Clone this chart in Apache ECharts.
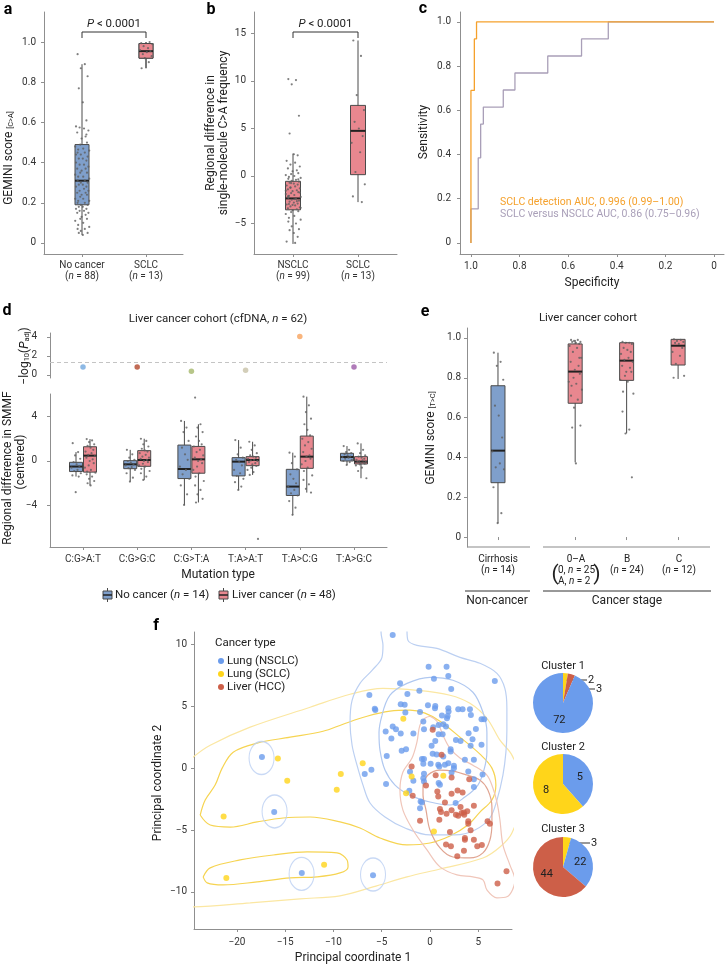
<!DOCTYPE html>
<html><head><meta charset="utf-8">
<script src="https://cdn.jsdelivr.net/npm/echarts@6/dist/echarts.min.js"></script>
<style>html,body{margin:0;padding:0;background:#fff}#c{width:726px;height:965px}</style>
</head><body><div id="c"></div>
<script>
// ---------------- DATA ----------------
// Panel a
const A_CATS = ['No cancer', 'SCLC'];
const A_N = [88, 13];
const A_BOX = [[0.04, 0.19, 0.31, 0.49, 0.89], [0.87, 0.92, 0.955, 0.993, 1.0]];
const A_DOTS_NOCANCER = [0.94,0.89,0.87,0.83,0.77,0.70,0.61,0.58,0.57,0.575,0.56,0.55,0.53,0.52,0.50,0.49,0.48,0.47,0.465,0.46,0.45,0.45,0.44,0.43,0.42,0.42,0.41,0.40,0.39,0.39,0.38,0.37,0.37,0.36,0.35,0.35,0.34,0.33,0.33,0.32,0.31,0.31,0.30,0.30,0.29,0.29,0.28,0.28,0.27,0.26,0.26,0.25,0.25,0.24,0.24,0.23,0.22,0.22,0.21,0.21,0.20,0.20,0.19,0.19,0.18,0.18,0.17,0.17,0.16,0.16,0.15,0.15,0.14,0.13,0.12,0.12,0.11,0.10,0.09,0.08,0.07,0.07,0.06,0.05,0.05,0.04,0.54,0.44];
const A_DOTS_SCLC = [0.87,0.90,0.92,0.93,0.94,0.95,0.955,0.96,0.97,0.98,0.99,0.995,1.0];
// Panel b
const B_CATS = ['NSCLC', 'SCLC'];
const B_N = [99, 13];
const B_BOX = [[-7.15, -3.56, -2.36, -0.56, 2.36], [-2.75, 0.14, 4.75, 7.43, 14.26]];
const B_DOTS_NSCLC = [10.2,10.1,9.65,6.34,4.47,2.29,2.18,1.6,1.4,1.2,1.0,0.8,0.6,0.5,0.3,0.2,0.1,0,-0.1,-0.2,-0.3,-0.4,-0.5,-0.6,-0.7,-0.8,-0.9,-1.0,-1.1,-1.2,-1.3,-1.4,-1.5,-1.6,-1.7,-1.8,-1.9,-2.0,-2.1,-2.2,-2.3,-2.4,-2.5,-2.6,-2.7,-2.8,-2.9,-3.0,-3.1,-3.2,-3.3,-3.4,-3.5,-3.6,-3.7,-3.8,-4.0,-4.2,-4.4,-4.6,-4.8,-5.0,-5.3,-5.6,-5.7,-6.0,-6.4,-6.9,-7.04,-1.25,-1.75,-2.15,-2.65,-3.05,-0.35,-0.75,-1.55,-2.45,-2.95,-3.35];
const B_DOTS_SCLC = [14.26,12.64,8.52,6.94,5.7,5.0,4.2,3.49,2.5,0.42,-0.88,-2.15,-2.75];
// Panel c (ROC steps: [specificity, sensitivity])
const ROC_DETECTION = [[1,0],[1,0.69],[0.986,0.69],[0.986,0.923],[0.977,0.923],[0.977,1],[0,1]];
const ROC_VERSUS = [[1,0],[1,0.154],[0.97,0.154],[0.97,0.385],[0.96,0.385],[0.96,0.538],[0.949,0.538],[0.949,0.615],[0.867,0.615],[0.867,0.692],[0.819,0.692],[0.819,0.769],[0.684,0.769],[0.684,0.846],[0.545,0.846],[0.545,0.923],[0.435,0.923],[0.435,1],[0,1]];
const C_X_TICKS = [1.0, 0.8, 0.6, 0.4, 0.2, 0];
const C_Y_TICKS = [0, 0.2, 0.4, 0.6, 0.8, 1.0];
// Panel d
const MUT_TYPES = ['C:G>A:T','C:G>G:C','C:G>T:A','T:A>A:T','T:A>C:G','T:A>G:C'];
const D_NEGLOGP = [0.85, 0.85, 0.4, 0.5, 4.05, 0.85];
const D_THRESHOLD = 1.3;
const D_BOX_NOCANCER = [[-1.4,-0.95,-0.5,-0.12,0.8],[-1.85,-0.69,-0.3,0.03,1.0],[-3.95,-1.58,-0.72,1.43,3.6],[-2.6,-1.34,-0.06,0.3,1.88],[-4.84,-3.1,-2.3,-0.75,0.75],[-0.36,0.0,0.36,0.69,1.34]];
const D_BOX_LIVER = [[-2.2,-1.0,0.48,1.28,1.97],[-1.7,-0.48,0.09,0.93,2.0],[-3.73,-1.1,0.15,1.31,3.3],[-1.25,-0.42,0.09,0.39,1.73],[-2.84,-0.66,0.39,2.24,5.78],[-1.55,-0.27,-0.06,0.39,1.58]];
const D_DOTS_NOCANCER = [
 [1.6,0.8,0.5,0.2,-0.1,-0.3,-0.45,-0.6,-0.8,-0.9,-1.1,-1.3,-1.4,-2.8],
 [1.0,0.6,0.3,0.1,0,-0.15,-0.3,-0.4,-0.55,-0.65,-0.8,-1.1,-1.5,-1.85],
 [3.6,3.0,2.6,1.8,1.2,0.6,0.1,-0.5,-0.8,-1.2,-1.6,-2.2,-3.0,-3.95],
 [1.88,1.2,0.6,0.3,0.1,-0.1,-0.4,-0.8,-1.1,-1.34,-1.6,-1.9,-2.3,-2.6],
 [0.75,0.4,-0.2,-0.75,-1.2,-1.6,-2.0,-2.3,-2.6,-2.9,-3.1,-3.6,-4.2,-4.84],
 [1.34,1.0,0.8,0.7,0.6,0.5,0.4,0.35,0.3,0.2,0.1,0.0,-0.1,-0.36]];
const D_DOTS_LIVER = [
 [1.97,1.85,1.7,1.5,1.35,1.2,1.0,0.85,0.7,0.55,0.45,0.3,0.15,0,-0.2,-0.4,-0.6,-0.8,-0.95,-1.05,-1.2,-1.4,-1.6,-1.8,-2.0,-2.2],
 [2.0,1.8,1.5,1.3,1.1,0.95,0.85,0.7,0.55,0.4,0.3,0.2,0.1,0,-0.1,-0.25,-0.4,-0.5,-0.7,-0.9,-1.1,-1.4,-1.7],
 [5.7,3.3,3.0,2.6,2.2,1.8,1.5,1.3,1.0,0.8,0.5,0.3,0.15,0,-0.2,-0.5,-0.8,-1.1,-1.4,-1.8,-2.2,-2.6,-3.0,-3.4,-3.73],
 [1.73,1.4,1.0,0.7,0.5,0.4,0.3,0.2,0.1,0.05,0,-0.1,-0.2,-0.3,-0.45,-0.6,-0.8,-1.0,-1.25,-7.0],
 [5.78,5.0,4.4,3.8,3.3,2.8,2.3,2.0,1.7,1.4,1.1,0.8,0.5,0.4,0.2,0,-0.3,-0.6,-0.9,-1.3,-1.7,-2.1,-2.5,-2.84],
 [1.58,1.0,0.7,0.5,0.4,0.3,0.2,0.1,0.05,0,-0.05,-0.1,-0.15,-0.2,-0.25,-0.3,-0.4,-0.6,-0.9,-1.55]];
// Panel e  (positions on axis: Cirrhosis, 0–A, B, C)
const E_POS = [0.5, 2, 3, 4];
const E_BOX = [[0.069,0.273,0.434,0.76,0.926],[0.375,0.672,0.831,0.97,0.99],[0.521,0.787,0.886,0.976,0.98],[0.794,0.864,0.961,0.993,0.993]];
const E_DOTS = [
 [0.926,0.88,0.86,0.79,0.66,0.61,0.5,0.43,0.37,0.35,0.34,0.25,0.12,0.07],
 [0.99,0.99,0.985,0.98,0.98,0.975,0.97,0.96,0.95,0.93,0.9,0.88,0.86,0.84,0.82,0.8,0.78,0.77,0.76,0.74,0.71,0.69,0.65,0.56,0.55,0.37,0.9],
 [0.98,0.976,0.975,0.97,0.95,0.94,0.93,0.92,0.9,0.89,0.88,0.86,0.85,0.83,0.83,0.81,0.79,0.78,0.73,0.72,0.63,0.54,0.52,0.30],
 [0.993,0.99,0.985,0.98,0.975,0.97,0.95,0.93,0.91,0.87,0.81,0.80]];
// Panel f
const F_NSCLC = [[-3.86,10.75],[-0.14,8.2],[1.72,8.2],[0.41,7.23],[1.9,7.45],[6.72,7.04],[-3.1,6.85],[-1.1,6.26],[2.2,6.4],[-6.28,5.9],[-2.34,6.0],[-3.03,5.16],[-2.62,5.13],[-5.72,4.8],[-5.66,4.7],[-2.55,4.5],[-1.03,4.54],[-0.21,5.08],[0.55,5.03],[0.52,4.84],[1.9,4.84],[1.93,4.57],[2.93,4.76],[3.38,4.76],[4.14,4.76],[1.24,4.25],[1.83,4.22],[1.76,4.03],[4.24,4.3],[5.34,3.95],[5.62,3.95],[-0.69,3.76],[-3.86,3.36],[-3.52,3.15],[-4.59,2.96],[0.34,3.31],[0.9,3.49],[1.38,3.55],[1.66,3.36],[-0.62,3.15],[4.76,3.17],[-3.03,2.8],[-1.72,2.8],[0.9,2.74],[1.31,2.74],[4.0,2.82],[-4.0,2.39],[2.69,2.28],[3.17,2.2],[4.41,2.34],[0.55,2.2],[0.17,1.8],[4.21,1.8],[5.34,1.88],[-2.93,1.4],[-2.48,1.53],[2.14,1.53],[2.14,1.34],[0.28,1.16],[0.69,1.1],[-4.48,0.97],[-0.83,0.73],[-0.62,0.73],[1.38,0.94],[3.62,0.67],[4.55,0.67],[0.07,0.35],[0.86,0.27],[0.97,0.13],[1.55,0.27],[1.9,0.4],[2.48,0.19],[2.48,0.0],[-0.69,0.35],[2.24,-0.35],[3.97,-0.27],[5.45,-0.51],[-2.07,-0.3],[-0.62,-0.46],[-0.69,-0.81],[-1.72,-1.02],[-0.62,-1.08],[0.9,-1.21],[1.03,-1.34],[4.55,-0.89],[4.55,-1.53],[-6.76,-0.48],[-6.07,-0.13],[-4.55,-1.29],[-2.14,-1.83],[-0.97,-2.69],[-0.83,-2.77],[2.66,-2.82],[-1.03,-3.25],[-17.41,0.89],[-16.14,-3.55],[-13.28,-8.47],[-5.9,-8.66]];
const F_SCLC = [[-15.76,0.78],[-14.79,-1.02],[-21.38,-3.9],[-21.1,-8.87],[-10.97,-7.8],[-9.24,-0.48],[-9.66,-1.75],[-6.97,0.4],[-2.76,4.0],[-1.9,-0.67],[-2.48,-2.04],[1.38,-0.62],[0.41,-5.13]];
const F_HCC = [[0.28,3.1],[1.2,1.08],[-1.9,0.13],[0.59,-0.57],[2.24,-0.75],[4.07,-0.89],[-0.41,-1.4],[0.76,-1.88],[0.86,-2.29],[-1.79,-2.23],[2.24,-2.07],[2.86,-1.8],[3.38,-1.96],[1.55,-2.77],[3.17,-3.15],[4.55,-3.04],[1.03,-3.31],[1.14,-3.55],[1.72,-3.68],[2.24,-3.41],[2.69,-3.76],[2.93,-3.84],[3.28,-3.63],[3.52,-3.58],[3.86,-3.49],[3.55,-3.76],[0.97,-4.17],[-1.03,-4.25],[3.97,-4.3],[3.97,-4.49],[5.97,-4.3],[6.21,-4.49],[4.21,-5.03],[2.07,-5.16],[3.62,-5.65],[3.62,-5.78],[4.55,-5.78],[1.66,-6.18],[2.17,-6.32],[4.9,-6.32],[5.38,-6.21],[3.52,-6.67],[2.83,-7.12],[7.93,-8.33],[7.0,-9.33]];
// density contours
const CONT_BLUE_OUTER = [[-3.5,12.5],[-4.87,11.77],[-5.07,10.97],[-4.87,9.92],[-4.97,8.95],[-6.0,7.9],[-7.25,6.85],[-8.07,5.48],[-8.28,3.71],[-8.07,1.85],[-7.56,0.24],[-6.94,-1.37],[-6.21,-2.82],[-4.66,-3.95],[-2.59,-4.84],[0,-5.4],[2.59,-5.4],[4.66,-5.0],[6.21,-4.03],[6.94,-2.58],[7.56,-0.56],[7.87,1.29],[7.97,3.06],[7.97,4.84],[7.76,6.45],[6.94,7.66],[5.18,8.47],[3.11,8.95],[0.72,9.68],[-1.35,9.92],[-2.28,10.32],[-2.38,11.13],[-2.28,11.77],[-3.5,12.5]];
const CONT_BLUE_INNER = [[-4.97,4.27],[-4.14,5.89],[-2.38,6.85],[0,7.34],[2.38,7.1],[4.45,6.13],[5.49,4.52],[5.9,2.9],[5.9,1.29],[5.59,-0.16],[4.97,-1.37],[3.62,-2.34],[2.07,-2.98],[0,-2.74],[-2.07,-2.18],[-3.62,-1.37],[-4.66,-0.16],[-5.18,1.45],[-5.28,2.9],[-4.97,4.27]];
const CONT_RED_OUTER = [[0,4.19],[0.72,3.79],[1.35,2.66],[2.07,1.61],[3.11,0.81],[4.45,0.24],[5.9,-0.56],[6.52,-1.61],[6.94,-2.74],[7.25,-4.19],[7.56,-6.21],[8.28,-7.82],[8.8,-9.03],[7.97,-10.4],[6.94,-10.48],[5.9,-9.84],[5.49,-9.03],[4.45,-8.79],[2.8,-8.63],[1.04,-7.98],[-0.31,-6.61],[-1.76,-5.0],[-2.8,-3.39],[-3.11,-1.77],[-2.8,-0.32],[-1.86,0.81],[-1.35,2.1],[-1.04,3.47],[-0.52,4.03],[0,4.19]];
const CONT_RED_INNER = [[-0.72,-1.37],[-0.21,-0.56],[1.04,-0.16],[2.38,-0.24],[3.83,-0.56],[5.18,-0.97],[6.0,-1.77],[6.42,-3.15],[6.42,-4.44],[6.21,-5.81],[5.49,-6.85],[4.14,-7.26],[2.38,-7.18],[1.04,-6.45],[0,-5.0],[-0.41,-3.39],[-0.72,-2.18],[-0.72,-1.37]];
const CONT_YELLOW_OUTER = [[-26.4,-5.0],[-25.88,-0.16],[-24.53,0.89],[-22.77,1.85],[-18.63,3.31],[-12.42,4.92],[-8.28,5.97],[-4.87,6.45],[-1.35,6.29],[2.07,5.89],[4.14,5.24],[5.9,4.03],[7.25,2.26],[8.49,1.05],[9.83,-1.77],[8.49,-5.24],[7.25,-6.37],[5.49,-7.26],[1.04,-8.15],[-2.38,-8.79],[-5.9,-9.6],[-9.32,-10.32],[-13.46,-10.56],[-18.63,-10.89],[-24.53,-11.21],[-25.88,-11.05],[-26.4,-5.0]];
const CONT_YELLOW_INNER = [[-23.81,-3.79],[-23.29,-2.58],[-22.26,-1.37],[-21.53,0],[-20.39,1.29],[-17.91,2.02],[-14.49,2.5],[-11.08,2.98],[-9.01,3.55],[-6.52,4.19],[-4.14,4.6],[-2.07,4.68],[-0.52,4.44],[1.04,3.79],[3.11,2.5],[5.18,1.13],[6.42,0],[6.83,-1.37],[6.42,-2.58],[5.18,-3.55],[3.93,-4.6],[2.07,-5.48],[0,-6.05],[-2.38,-6.21],[-5.18,-5.65],[-7.25,-4.84],[-9.32,-4.35],[-12.42,-3.95],[-15.22,-4.03],[-17.91,-4.35],[-20.7,-4.76],[-22.77,-4.6],[-23.81,-3.79]];
const CONT_YELLOW_SMALL = [[-23.5,-8.79],[-22.77,-8.06],[-19.67,-7.42],[-16.25,-7.02],[-12.73,-6.77],[-9.63,-6.85],[-8.59,-7.42],[-8.49,-7.98],[-9.32,-8.47],[-11.7,-8.79],[-14.49,-8.87],[-17.91,-9.19],[-21.43,-9.44],[-23.08,-9.27],[-23.5,-8.79]];
const CONT_BLUE_SINGLETONS = [[-17.45,0.82],[-16.1,-3.5],[-13.3,-8.55],[-5.9,-8.6]];
const F_X_TICKS = [-20,-15,-10,-5,0,5];
const F_Y_TICKS = [-10,-5,0,5,10];
// pies: [label, NSCLC, SCLC, HCC]
const CLUSTER_NAMES = ['Cluster 1','Cluster 2','Cluster 3'];
const CLUSTER1 = [{k:'SCLC',v:2},{k:'HCC',v:3},{k:'NSCLC',v:72}];
const CLUSTER2 = [{k:'NSCLC',v:5},{k:'SCLC',v:8}];
const CLUSTER3 = [{k:'SCLC',v:3},{k:'NSCLC',v:22},{k:'HCC',v:44}];

// ---------------- STYLE ----------------
const FONT = 'Roboto, "Liberation Sans", Arial, sans-serif';
const AXC = '#8f8f8f', TXT = '#333';
const BLUE_BOX = '#7f9fcb', RED_BOX = '#e8878f', DOT = '#5f5f5f';
const C_BLUE = '#6b9cec', C_YEL = '#ffd51a', C_RED = '#cd5f48';
const TYPE_COLOR = {NSCLC: C_BLUE, SCLC: C_YEL, HCC: C_RED};
const MUT_COLORS = ['#70a8de','#b3472c','#a5b86b','#c8c2a7','#f7a35c','#9c5aa8'];
const ORANGE = '#f5a12c', LAV = '#a99fb8';
const JIT = [-0.55,0.35,-0.15,0.7,-0.4,0.1,0.55,-0.75,0.25,-0.3,0.8,-0.6,0.45,-0.05,0.62,-0.22,-0.85,0.15,-0.48,0.9];
const minus = s => String(s).replace('-', '\u2212');
const RICH = {i:{fontStyle:'italic', fontFamily:FONT, fontSize:10, color:TXT}};

function yAx(gi, min, max, ticks, fmt, margin, extra) {
  return Object.assign({type:'value', gridIndex:gi, min, max,
    axisLine:{show:true, onZero:false, lineStyle:{color:AXC, width:1}},
    axisTick:{show:true, length:3, lineStyle:{color:AXC}, customValues:ticks},
    axisLabel:{color:TXT, fontSize:10, fontFamily:FONT, margin:margin, customValues:ticks, formatter:fmt},
    splitLine:{show:false}}, extra || {});
}
function xAx(gi, min, max, ticks, fmt, margin, extra) {
  return Object.assign({type:'value', gridIndex:gi, min, max, position:'bottom',
    axisLine:{show:true, onZero:false, lineStyle:{color:AXC, width:1}},
    axisTick:{show:true, length:3, lineStyle:{color:AXC}, customValues:ticks},
    axisLabel:{color:TXT, fontSize:10, fontFamily:FONT, margin:margin, lineHeight:11, customValues:ticks, formatter:fmt, rich:RICH},
    splitLine:{show:false}}, extra || {});
}
function boxSeries(gi, rows, xs, fill, halfW, dx) {
  return {type:'custom', xAxisIndex:gi, yAxisIndex:gi, z:3, silent:true,
    data: rows.map((r, i) => [xs[i]].concat(r)),
    renderItem(params, api) {
      const x = api.value(0);
      const p = k => api.coord([x, api.value(k)]);
      const lo = p(1), q1 = p(2), md = p(3), q3 = p(4), hi = p(5);
      const cx = lo[0] + dx;
      return {type:'group', children:[
        {type:'line', shape:{x1:cx, y1:lo[1], x2:cx, y2:hi[1]}, style:{stroke:'#4a4a4a', lineWidth:1}},
        {type:'rect', shape:{x:cx-halfW, y:q3[1], width:halfW*2, height:q1[1]-q3[1]}, style:{fill:fill, stroke:'#4a4a4a', lineWidth:1}},
        {type:'line', shape:{x1:cx-halfW, y1:md[1], x2:cx+halfW, y2:md[1]}, style:{stroke:'#222', lineWidth:2}}
      ]};
    }};
}
function dotSeries(gi, x, vals, spread, dx) {
  return {type:'scatter', xAxisIndex:gi, yAxisIndex:gi, z:5, silent:true, symbolSize:2.2,
    itemStyle:{color:DOT, opacity:0.8},
    data: vals.map((v, i) => ({value:[x, v], symbolOffset:[(dx||0) + JIT[i % JIT.length] * spread, 0]}))};
}
function contour(data, color, width) {
  return {type:'line', xAxisIndex:6, yAxisIndex:6, data, smooth:0.35, showSymbol:false, symbol:'none',
    clip:true, silent:true, z:2, lineStyle:{color, width:width||1.2}};
}
function T(x, y, text, o) {
  o = o || {};
  return {type:'text', x, y, rotation:o.rot || 0, silent:true,
    style:{text, fill:o.fill || '#222', fontSize:o.size || 12, fontFamily:FONT, fontWeight:o.weight || 'normal',
      fontStyle:o.style || 'normal', align:o.align || 'center', verticalAlign:'middle',
      rich:o.rich || {i:{fontStyle:'italic', fontSize:o.size || 12, fontFamily:FONT, fill:o.fill || '#222'},
                      s:{fontSize:(o.size || 12)*0.62, fontFamily:FONT, fill:o.fill || '#222', padding:[4,0,0,0]}}}};
}
function L(points, stroke, w) {
  return {type:'polyline', silent:true, shape:{points}, style:{stroke:stroke || '#333', fill:null, lineWidth:w || 1}};
}
function pie(center, items) {
  return {type:'pie', center, radius:30, startAngle:90, clockwise:true, silent:true, animation:false,
    itemStyle:{borderWidth:0},
    data: items.map(d => ({name:d.k, value:d.v, itemStyle:{color:TYPE_COLOR[d.k]},
      label:{show:d.v > 4, position:'inside', color:'#222', fontSize:11, fontFamily:FONT, formatter:'{c}'}})),
    labelLine:{show:false}};
}

const f1 = v => v === 0 ? '0' : v.toFixed(1);

const option = {
  animation:false,
  backgroundColor:'#fff',
  grid:[
    {left:44, top:12, width:139, height:242},
    {left:254, top:12, width:143, height:242},
    {left:460, top:12, width:264, height:242},
    {left:50, top:333, width:337, height:45},
    {left:50, top:394, width:337, height:153},
    {left:467, top:328, width:243, height:219},
    {left:194, top:632, width:318, height:297}
  ],
  xAxis:[
    xAx(0, 0.406, 2.578, [1,2], v => A_CATS[v-1] + '\n({i|n} = ' + A_N[v-1] + ')', 6),
    xAx(1, 0.4, 2.6, [1,2], v => B_CATS[v-1] + '\n({i|n} = ' + B_N[v-1] + ')', 6),
    xAx(2, -0.041, 1.045, C_X_TICKS, f1, 7, {inverse:true}),
    xAx(3, 0.391, 6.609, [1,2,3,4,5,6], v => '', 6, {show:false}),
    xAx(4, 0.391, 6.609, [1,2,3,4,5,6], v => MUT_TYPES[v-1], 7),
    xAx(5, -0.102, 4.62, E_POS, v => '', 6, {axisLine:{show:false}}),
    xAx(6, -24.45, 8.5, F_X_TICKS, minus, 8)
  ],
  yAxis:[
    yAx(0, -0.055, 1.15, C_Y_TICKS, f1, 8),
    yAx(1, -8.21, 17.26, [-5,0,5,10,15], minus, 8),
    yAx(2, -0.05, 1.045, C_Y_TICKS, f1, 9),
    yAx(3, -0.32, 4.42, [0,2,4], minus, 13),
    yAx(4, -7.73, 6.02, [-4,0,4], minus, 13),
    yAx(5, -0.05, 1.05, C_Y_TICKS, f1, 6),
    yAx(6, -13, 11, F_Y_TICKS, minus, 7)
  ],
  series:[
    // a
    boxSeries(0, A_BOX, [1,2], BLUE_BOX, 7, 0),
    boxSeries(0, [A_BOX[1]], [2], RED_BOX, 7, 0),
    dotSeries(0, 1, A_DOTS_NOCANCER, 8),
    dotSeries(0, 2, A_DOTS_SCLC, 8),
    // b
    boxSeries(1, B_BOX, [1,2], RED_BOX, 7.5, 0),
    dotSeries(1, 1, B_DOTS_NSCLC, 8.5),
    dotSeries(1, 2, B_DOTS_SCLC, 8.5),
    // c
    {type:'line', xAxisIndex:2, yAxisIndex:2, data:ROC_VERSUS, showSymbol:false, symbol:'none', z:3,
      lineStyle:{color:LAV, width:1.3}},
    {type:'line', xAxisIndex:2, yAxisIndex:2, data:ROC_DETECTION, showSymbol:false, symbol:'none', z:4,
      lineStyle:{color:ORANGE, width:1.3}},
    // d top
    {type:'scatter', xAxisIndex:3, yAxisIndex:3, symbolSize:5.5, z:4,
      data: D_NEGLOGP.map((v, i) => ({value:[i+1, v], itemStyle:{color:MUT_COLORS[i]}})),
      markLine:{silent:true, symbol:'none', label:{show:false}, lineStyle:{type:[4,3], color:'#c4c4c4', width:1},
        data:[{yAxis:D_THRESHOLD}]}},
    // d bottom
    boxSeries(4, D_BOX_NOCANCER, [1,2,3,4,5,6], BLUE_BOX, 6.5, -7),
    boxSeries(4, D_BOX_LIVER, [1,2,3,4,5,6], RED_BOX, 6.5, 7),
    ...D_DOTS_NOCANCER.map((vals, i) => dotSeries(4, i+1, vals, 6, -7)),
    ...D_DOTS_LIVER.map((vals, i) => dotSeries(4, i+1, vals, 6, 7)),
    // e
    boxSeries(5, [E_BOX[0]], [E_POS[0]], BLUE_BOX, 7, 0),
    boxSeries(5, E_BOX.slice(1), E_POS.slice(1), RED_BOX, 7, 0),
    ...E_DOTS.map((vals, i) => dotSeries(5, E_POS[i], vals, 7.5)),
    // f contours
    contour(CONT_YELLOW_OUTER, '#fbe7a2', 1.2),
    contour(CONT_YELLOW_INNER, '#f6d452', 1.2),
    contour(CONT_YELLOW_SMALL, '#f6d452', 1.2),
    contour(CONT_BLUE_OUTER, '#bcd0f2', 1.2),
    contour(CONT_BLUE_INNER, '#b0c8f0', 1.2),
    contour(CONT_RED_OUTER, '#f0c6ba', 1.2),
    contour(CONT_RED_INNER, '#e0a592', 1.2),
    {type:'scatter', xAxisIndex:6, yAxisIndex:6, data:CONT_BLUE_SINGLETONS, symbol:'circle', symbolSize:[25,33], z:2, silent:true,
      itemStyle:{color:'rgba(0,0,0,0)', borderColor:'#bcd0f2', borderWidth:1.2}},
    {type:'scatter', name:'Lung (NSCLC)', xAxisIndex:6, yAxisIndex:6, data:F_NSCLC, symbolSize:6, z:5, itemStyle:{color:C_BLUE}},
    {type:'scatter', name:'Lung (SCLC)', xAxisIndex:6, yAxisIndex:6, data:F_SCLC, symbolSize:6, z:6, itemStyle:{color:C_YEL}},
    {type:'scatter', name:'Liver (HCC)', xAxisIndex:6, yAxisIndex:6, data:F_HCC, symbolSize:6, z:5, itemStyle:{color:C_RED}},
    // pies
    pie([563,703], CLUSTER1),
    pie([563,784], CLUSTER2),
    pie([563,867], CLUSTER3)
  ],
  graphic:[
    // panel letters
    T(8,10,'a',{size:16, weight:'bold', fill:'#000'}),
    T(211,10,'b',{size:16, weight:'bold', fill:'#000'}),
    T(423,9,'c',{size:16, weight:'bold', fill:'#000'}),
    T(7,311,'d',{size:16, weight:'bold', fill:'#000'}),
    T(425,312,'e',{size:16, weight:'bold', fill:'#000'}),
    T(156,626,'f',{size:16, weight:'bold', fill:'#000'}),
    // a
    T(114,24,'{i|P} < 0.0001',{size:11.5}),
    L([[82,38],[82,32],[146,32],[146,38]]),
    T(9,158,'GEMINI score {s|[C>A]}',{rot:Math.PI/2, size:12}),
    // b
    T(325.5,24,'{i|P} < 0.0001',{size:11.5}),
    L([[293,38],[293,32],[358,32],[358,38]]),
    T(211,133,'Regional difference in',{rot:Math.PI/2, size:12}),
    T(224,133,'single-molecule C>A frequency',{rot:Math.PI/2, size:12}),
    // c
    T(424,132,'Sensitivity',{rot:Math.PI/2, size:12}),
    T(592,283,'Specificity',{size:12}),
    T(500,202,'SCLC detection AUC, 0.996 (0.99\u20131.00)',{size:10.5, align:'left', fill:ORANGE}),
    T(500,214,'SCLC versus NSCLC AUC, 0.86 (0.75\u20130.96)',{size:10.5, align:'left', fill:LAV}),
    // d
    T(218,319,'Liver cancer cohort (cfDNA, {i|n} = 62)',{size:11.5}),
    T(25,356,'\u2212log{s|10}({i|P}{s|adj})',{rot:Math.PI/2, size:12}),
    T(8,468,'Regional difference in SMMF',{rot:Math.PI/2, size:12}),
    T(21,462,'(centered)',{rot:Math.PI/2, size:12}),
    T(218,575,'Mutation type',{size:12}),
    {type:'rect', shape:{x:103, y:591, width:9, height:8}, style:{fill:BLUE_BOX, stroke:'#4a4a4a', lineWidth:1}},
    L([[103,595],[112,595]], '#222', 1.5), L([[107.5,588],[107.5,591]], '#4a4a4a'), L([[107.5,599],[107.5,602]], '#4a4a4a'),
    T(115,595,'No cancer ({i|n} = 14)',{size:11.5, align:'left'}),
    {type:'rect', shape:{x:219, y:591, width:9, height:8}, style:{fill:RED_BOX, stroke:'#4a4a4a', lineWidth:1}},
    L([[219,595],[228,595]], '#222', 1.5), L([[223.5,588],[223.5,591]], '#4a4a4a'), L([[223.5,599],[223.5,602]], '#4a4a4a'),
    T(232,595,'Liver cancer ({i|n} = 48)',{size:11.5, align:'left'}),
    // e
    T(588,318,'Liver cancer cohort',{size:11.5}),
    T(431,438,'GEMINI score {s|[T>C]}',{rot:Math.PI/2, size:12}),
    L([[467,547],[530,547]], '#c4c4c4', 2),
    L([[543,547],[710,547]], '#c4c4c4', 2),
    T(498,559,'Cirrhosis',{size:10}), T(498,570,'({i|n} = 14)',{size:10, rich:{i:{fontStyle:'italic',fontSize:10,fontFamily:FONT}}}),
    T(576,559,'0\u2013A',{size:10}),
    T(558,570,'0, {i|n} = 25',{size:10, align:'left', rich:{i:{fontStyle:'italic',fontSize:10,fontFamily:FONT}}}),
    T(558,581,'A, {i|n} = 2',{size:10, align:'left', rich:{i:{fontStyle:'italic',fontSize:10,fontFamily:FONT}}}),
    T(555,575,'(',{size:21}), T(597,575,')',{size:21}),
    T(627,559,'B',{size:10}), T(627,570,'({i|n} = 24)',{size:10, rich:{i:{fontStyle:'italic',fontSize:10,fontFamily:FONT}}}),
    T(679,559,'C',{size:10}), T(679,570,'({i|n} = 12)',{size:10, rich:{i:{fontStyle:'italic',fontSize:10,fontFamily:FONT}}}),
    L([[465,591],[530,591]], '#333', 1),
    L([[543,591],[711,591]], '#333', 1),
    T(497,601,'Non-cancer',{size:12}),
    T(627,601,'Cancer stage',{size:12}),
    // f
    T(158,783,'Principal coordinate 2',{rot:Math.PI/2, size:12}),
    T(353,958,'Principal coordinate 1',{size:12}),
    T(215,643,'Cancer type',{size:11.5, align:'left'}),
    {type:'circle', shape:{cx:221, cy:661, r:3}, style:{fill:C_BLUE}},
    {type:'circle', shape:{cx:221, cy:674, r:3}, style:{fill:C_YEL}},
    {type:'circle', shape:{cx:221, cy:687, r:3}, style:{fill:C_RED}},
    T(227,661,'Lung (NSCLC)',{size:11.5, align:'left'}),
    T(227,674,'Lung (SCLC)',{size:11.5, align:'left'}),
    T(227,687,'Liver (HCC)',{size:11.5, align:'left'}),
    // pies annotations
    T(563,666,CLUSTER_NAMES[0],{size:11}),
    T(563,747,CLUSTER_NAMES[1],{size:11}),
    T(563,829,CLUSTER_NAMES[2],{size:11}),
    L([[565,680],[587,680]], '#333', 1), T(588,680,String(CLUSTER1[0].v),{size:11, align:'left'}),
    L([[567,689],[595,689]], '#333', 1), T(596,689,String(CLUSTER1[1].v),{size:11, align:'left'}),
    L([[567,843],[590,843]], '#333', 1), T(591,843,String(CLUSTER3[0].v),{size:11, align:'left'})
  ]
};
const chart = echarts.init(document.getElementById('c'), null, {renderer:'canvas'});
chart.setOption(option);
</script></body></html>
